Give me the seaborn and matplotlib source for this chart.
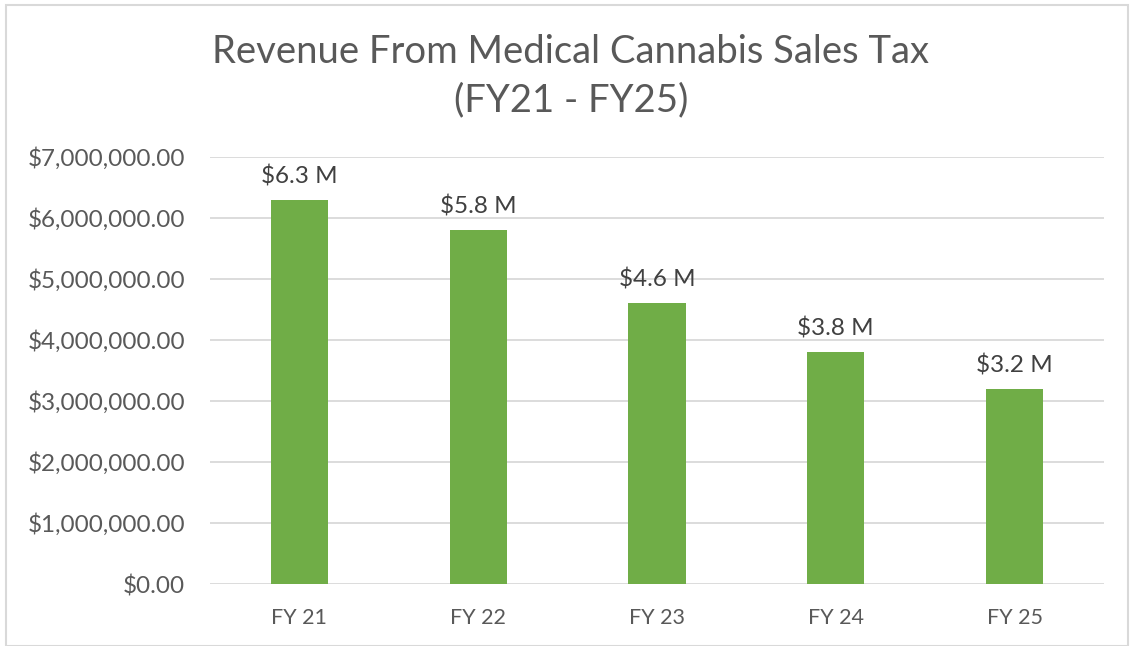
import matplotlib
matplotlib.use("Agg")
import matplotlib.pyplot as plt
import seaborn as sns
import pandas as pd
from matplotlib.ticker import FuncFormatter
from matplotlib.patches import Rectangle

categories = ["FY 21", "FY 22", "FY 23", "FY 24", "FY 25"]
revenue = [6300000, 5800000, 4600000, 3800000, 3200000]
bar_labels = ["$6.3 M", "$5.8 M", "$4.6 M", "$3.8 M", "$3.2 M"]

sns.set_theme(style="white")
plt.rcParams['font.family'] = ['Lato', 'DejaVu Sans']

df = pd.DataFrame({"cat": categories, "rev": revenue})

fig = plt.figure(figsize=(11.32, 6.46), dpi=100)
ax = fig.add_axes([210/1132, 1-584/646, (1104-210)/1132, (584-157)/646])

sns.barplot(data=df, x="cat", y="rev", color="#70AD47", width=0.32, ax=ax,
            saturation=1, edgecolor="none")

ax.set_ylim(0, 7000000)
ax.set_yticks(range(0, 7000001, 1000000))
ax.yaxis.set_major_formatter(FuncFormatter(lambda v, p: f"${v:,.2f}"))
ax.grid(axis="y", color="#D9D9D9", linewidth=1.3)
ax.set_axisbelow(True)
for s in ax.spines.values():
    s.set_visible(False)
ax.tick_params(axis="y", length=0, pad=18, labelsize=17.5, labelcolor="#595959")
ax.tick_params(axis="x", length=0, pad=17, labelsize=15.5, labelcolor="#595959")
ax.set_xlabel("")
ax.set_ylabel("")
ax.set_xlim(-0.5, 4.5)

for i, (v, lab) in enumerate(zip(revenue, bar_labels)):
    ax.annotate(lab, (i, v), xytext=(0, 9), textcoords="offset points",
                ha="center", va="bottom", fontsize=17.5, color="#404040")

fig.text(571/1132, 1-52/646, "Revenue From Medical Cannabis Sales Tax",
         ha="center", va="center", fontsize=27.5, color="#595959")
fig.text(571/1132, 1-100/646, "(FY21 - FY25)",
         ha="center", va="center", fontsize=27.5, color="#595959")

fig.patches.append(Rectangle((6/1132, 0), (1128-6)/1132, 1-5/646,
                             transform=fig.transFigure, fill=False,
                             edgecolor="#D9D9D9", linewidth=1.5))

fig.savefig("out.png", dpi=100)
